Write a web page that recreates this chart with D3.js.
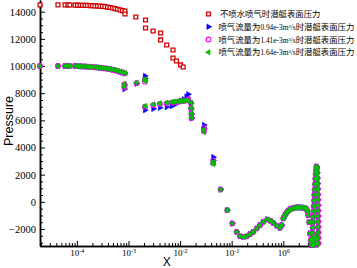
<!DOCTYPE html>
<html>
<head>
<meta charset="utf-8">
<script src="https://cdn.jsdelivr.net/npm/d3@7"></script>
<style>
    body { margin: 0; background: #fff; }
    svg { display: block; }
</style>
</head>
<body>
<svg id="drawing_region"></svg>
<script>
// ---- data ----
const xRed = [1.93e-5, 4.3e-5, 5.9e-5, 6.7e-5, 7.3e-5, 9.2e-5, 1.03e-4, 1.15e-4, 1.28e-4, 1.44e-4,
    1.6e-4, 1.8e-4, 2.0e-4, 2.24e-4, 2.51e-4, 2.8e-4, 3.13e-4, 3.5e-4, 3.92e-4, 4.38e-4,
    4.9e-4, 5.47e-4, 6.12e-4, 6.84e-4, 7.65e-4, 8.55e-4, 8.55e-4, 1.39e-3, 2.14e-3, 2.14e-3,
    3.0e-3, 4.2e-3, 4.2e-3, 5.5e-3, 7.3e-3, 7.3e-3, 8.5e-3, 1.02e-2, 1.15e-2];
const pRed = [14500, 14500, 14500, 14500, 14490, 14480, 14480, 14470, 14470, 14460,
    14460, 14450, 14440, 14430, 14420, 14410, 14390, 14370, 14340, 14310,
    14270, 14230, 14180, 14130, 14080, 14050, 13830, 13610, 13390, 12800,
    12580, 12430, 11920, 11550, 11180, 10590, 10370, 10080, 9930];

// x positions shared by the three jet cases
const xJet = [
    1.93e-5, 4.3e-5, 5.9e-5, 6.7e-5, 7.3e-5, 9.2e-5, 1.03e-4, 1.15e-4, 1.28e-4, 1.44e-4,
    1.6e-4, 1.8e-4, 2.0e-4, 2.24e-4, 2.51e-4, 2.8e-4, 3.13e-4, 3.5e-4, 3.92e-4, 4.38e-4,
    4.9e-4, 5.47e-4, 6.12e-4, 6.84e-4, 7.65e-4, 8.55e-4,
    8.36e-4, 8.36e-4, 1.44e-3, 2.09e-3, 2.09e-3,
    2.09e-3, 3.03e-3, 4.07e-3, 5.5e-3,
    6.87e-3, 7.62e-3, 8.59e-3, 9.52e-3, 1.06e-2, 1.19e-2, 1.33e-2, 1.44e-2,
    1.62e-2, 1.64e-2, 1.66e-2, 1.68e-2,
    2.91e-2, 2.91e-2, 4.4e-2, 4.4e-2,
    0.0612, 0.0822, 0.103, 0.125, 0.145, 0.168, 0.195, 0.226, 0.259, 0.305,
    0.353, 0.409, 0.49, 0.57, 0.64, 0.745, 0.863, 0.931, 1.0, 1.08,
    1.18, 1.25, 1.35, 1.45, 1.56, 1.68, 1.82, 1.95, 2.11, 2.27,
    2.44, 2.6, 2.75, 2.94, 3.05, 3.18, 3.29, 3.41, 3.55,
    3.6, 3.64, 3.68, 3.72, 3.76, 3.8, 3.85, 3.9, 3.95, 4.0, 4.06, 4.12, 4.18, 4.25, 4.32, 4.4,
    4.48, 4.54, 4.58, 4.62, 4.65, 4.67, 4.69, 4.71, 4.72, 4.73, 4.74, 4.75, 4.76, 4.76, 4.77,
    3.75, 3.95, 4.15, 4.35, 4.55];

const pBlue = [
    10000, 10000, 10000, 10000, 10000, 10000, 9990, 9980, 9970, 9960,
    9950, 9940, 9920, 9910, 9890, 9875, 9850, 9830, 9810, 9780,
    9740, 9700, 9650, 9590, 9520, 9450,
    8600, 8300, 8700, 9270, 9100,
    6750, 6850, 6930, 6980,
    7050, 7150, 7250, 7350, 7450, 7550, 7750, 7920,
    7250, 6850, 6450, 6150,
    5660, 5400, 3290, 3050,
    910, -610, -1590, -2210, -2525, -2575, -2545, -2380, -2230, -1960,
    -1715, -1470, -1295, -1385, -1545, -1750, -1915, -1715, -1220, -980,
    -760, -650, -560, -510, -465, -440, -410, -410, -410, -415,
    -425, -450, -485, -685, -980, -1495, -2325, -2820, -3185,
    -3100, -2700, -2300, -1900, -1500, -1100, -700, -300, 100, 500, 900, 1300, 1700, 2050, 2350, 2600,
    2500, 2150, 1750, 1350, 950, 550, 150, -250, -650, -1050, -1450, -1850, -2250, -2650, -3050,
    -3150, -2850, -2550, -2750, -3100];

const pMagenta = [
    10000, 10000, 10000, 10000, 10000, 10000, 9990, 9980, 9970, 9960,
    9950, 9940, 9920, 9910, 9890, 9870, 9845, 9825, 9800, 9770,
    9730, 9690, 9640, 9580, 9520, 9460,
    8640, 8420, 8740, 9000, 8850,
    7000, 7120, 7200, 7250,
    7300, 7320, 7350, 7380, 7400, 7430, 7480, 7550,
    7280, 6880, 6480, 6180,
    5450, 5200, 3050, 2850,
    910, -610, -1590, -2210, -2525, -2575, -2545, -2380, -2230, -1960,
    -1715, -1470, -1295, -1385, -1545, -1750, -1915, -1715, -1220, -980,
    -760, -650, -560, -510, -465, -440, -410, -410, -410, -415,
    -425, -450, -485, -685, -980, -1495, -2325, -2820, -3185,
    -3100, -2700, -2300, -1900, -1500, -1100, -700, -300, 100, 500, 900, 1300, 1700, 2050, 2350, 2600,
    2500, 2150, 1750, 1350, 950, 550, 150, -250, -650, -1050, -1450, -1850, -2250, -2650, -3050,
    -3150, -2850, -2550, -2750, -3100];

const pGreen = [
    10000, 10000, 10000, 10000, 10000, 10000, 9990, 9980, 9970, 9960,
    9950, 9940, 9920, 9910, 9890, 9875, 9850, 9830, 9810, 9780,
    9740, 9700, 9650, 9595, 9540, 9480,
    8680, 8460, 8770, 9020, 8900,
    7060, 7180, 7260, 7300,
    7350, 7370, 7390, 7410, 7430, 7450, 7470, 7480,
    7300, 6900, 6500, 6200,
    5340, 5140, 2950, 2780,
    910, -610, -1590, -2210, -2525, -2575, -2545, -2380, -2230, -1960,
    -1715, -1470, -1295, -1385, -1545, -1750, -1915, -1715, -1220, -980,
    -760, -650, -560, -510, -465, -440, -410, -410, -410, -415,
    -425, -450, -485, -685, -980, -1495, -2325, -2820, -3185,
    -3100, -2700, -2300, -1900, -1500, -1100, -700, -300, 100, 500, 900, 1300, 1700, 2050, 2350, 2600,
    2500, 2150, 1750, 1350, 950, 550, 150, -250, -650, -1050, -1450, -1850, -2250, -2650, -3050,
    -3150, -2850, -2550, -2750, -3100];

const yTicks = [-2000, 0, 2000, 4000, 6000, 8000, 10000, 12000, 14000];
const xTickPowers = [-4, -3, -2, -1, 0];
const legendLabels = [
    '不喷水喷气时潜艇表面压力',
    '喷气流量为0.94e-3m³/s时潜艇表面压力',
    '喷气流量为1.41e-3m³/s时潜艇表面压力',
    '喷气流量为1.64e-3m³/s时潜艇表面压力'
];

class PressureChart {
    constructor (config, series) {
        this.config = {
            parent: config.parent,
            width: config.width || 357,
            height: config.height || 268,
            margin: config.margin || {top:0, right:39, bottom:22, left:40},
        }
        this.series = series;
        this.init();
    }

    init() {
        let self = this;

        self.svg = d3.select( self.config.parent )
            .attr('width', self.config.width)
            .attr('height', self.config.height);

        self.chart = self.svg.append('g')
            .attr('transform', `translate(${self.config.margin.left}, ${self.config.margin.top})`);

        self.inner_width = self.config.width - self.config.margin.left - self.config.margin.right;
        self.inner_height = self.config.height - self.config.margin.top - self.config.margin.bottom;

        self.xscale = d3.scaleLog()
            .domain([1.93e-5, 4.77])
            .range([0, self.inner_width]);

        self.yscale = d3.scaleLinear()
            .domain([-3250, 14860])
            .range([self.inner_height, 0]);
    }

    update() {
        let self = this;

        // minor ticks, pointing into the plot
        let yMinor = d3.range(-3000, 14600, 500).filter(v => v % 2000 !== 0);
        let xMinor = [];
        for (let k = -5; k <= 0; k++) {
            for (let m = 2; m <= 9; m++) {
                let v = m * Math.pow(10, k);
                if (v > 1.93e-5 && v < 4.77) xMinor.push(v);
            }
        }

        self.chart.append('g')
            .attr('class', 'axis')
            .call( d3.axisLeft(self.yscale).tickValues(yMinor).tickSize(-3).tickFormat('').tickSizeOuter(0) );

        self.chart.append('g')
            .attr('class', 'axis')
            .call( d3.axisLeft(self.yscale).tickValues(yTicks).tickSize(-5).tickPadding(4)
                .tickFormat(d3.format('d')).tickSizeOuter(0) )
            .selectAll('text')
            .attr('font-family', '"Liberation Serif", serif')
            .attr('font-size', 10.5)
            .attr('fill', '#000');

        self.chart.append('g')
            .attr('class', 'axis')
            .attr('transform', `translate(0, ${self.inner_height})`)
            .call( d3.axisBottom(self.xscale).tickValues(xMinor).tickSize(-3).tickFormat('').tickSizeOuter(0) );

        let xMajor = self.chart.append('g')
            .attr('class', 'axis')
            .attr('transform', `translate(0, ${self.inner_height})`)
            .call( d3.axisBottom(self.xscale).tickValues(xTickPowers.map(p => Math.pow(10, p))).tickSize(-5).tickFormat('').tickSizeOuter(0) );

        xMajor.selectAll('.tick').append('text')
            .attr('y', 10)
            .attr('fill', '#000')
            .attr('text-anchor', 'middle')
            .attr('font-family', '"Liberation Serif", serif')
            .attr('font-size', 9)
            .each(function(d, i) {
                let t = d3.select(this);
                t.append('tspan').text('10');
                t.append('tspan').attr('font-size', 6).attr('dy', -3.5).text(xTickPowers[i]);
            });

        self.chart.selectAll('.axis path.domain').attr('stroke-width', 1.5);
        self.chart.selectAll('.axis .tick line').attr('stroke-width', 1);

        // axis titles
        self.svg.append('text')
            .attr('x', self.config.margin.left + self.xscale(0.0055))
            .attr('y', 265.5)
            .attr('text-anchor', 'middle')
            .attr('font-family', '"Liberation Sans", Arial, sans-serif')
            .attr('font-size', 12)
            .text('X');

        self.svg.append('text')
            .attr('transform', `translate(13, 121) rotate(-90)`)
            .attr('text-anchor', 'middle')
            .attr('font-family', '"Liberation Sans", Arial, sans-serif')
            .attr('font-size', 12.5)
            .text('Pressure');

        self.render();
    }

    render() {
        let self = this;

        self.series.forEach(s => {
            let sym = d3.symbol().type(s.shape).size(s.size);
            self.chart.append('g').selectAll('path')
                .data(s.x.map((x, i) => ({x: x, p: s.p[i]})))
                .join('path')
                .attr('d', sym)
                .attr('transform', d => `translate(${self.xscale(d.x)}, ${self.yscale(d.p)}) rotate(${s.rotate})`)
                .attr('fill', s.fill)
                .attr('stroke', s.stroke)
                .attr('stroke-width', s.strokeWidth);
        });

        // legend
        let legend = self.svg.append('g');
        self.series.forEach((s, i) => {
            let y = 14 + i * 12.75;
            let sym = d3.symbol().type(s.shape).size(s.size);
            legend.append('path')
                .attr('d', sym)
                .attr('transform', `translate(208.5, ${y}) rotate(${s.rotate})`)
                .attr('fill', s.fill)
                .attr('stroke', s.stroke)
                .attr('stroke-width', s.strokeWidth);

            let t = legend.append('text')
                .attr('x', i === 0 ? 220 : 218.5)
                .attr('y', y + 3)
                .attr('font-family', '"Noto Sans CJK SC", sans-serif')
                .attr('font-size', 8.4);
            legendLabels[i].split(/([0-9.e\-m³\/s]+)/).filter(p => p.length).forEach(part => {
                let latin = /^[0-9.e\-m³\/s]+$/.test(part);
                t.append('tspan')
                    .attr('font-family', latin ? '"Liberation Serif", serif' : '"Noto Sans CJK SC", sans-serif')
                    .attr('font-size', latin ? 7.4 : 8.4)
                    .text(part);
            });
        });
    }
}

let series = [
    {x: xRed, p: pRed, shape: d3.symbolSquare, size: 15, rotate: 0, fill: '#fff', stroke: '#d40000', strokeWidth: 1.3},
    {x: xJet, p: pBlue, shape: d3.symbolTriangle, size: 14, rotate: 90, fill: '#0000ff', stroke: '#0000ff', strokeWidth: 0.5},
    {x: xJet, p: pMagenta, shape: d3.symbolCircle, size: 18, rotate: 0, fill: 'none', stroke: '#ff00ff', strokeWidth: 1.1},
    {x: xJet, p: pGreen, shape: d3.symbolTriangle, size: 11, rotate: -90, fill: '#00cc00', stroke: '#00b400', strokeWidth: 0.8}
];

let config = {
    parent: '#drawing_region',
    width: 357,
    height: 268,
    margin: {top:0, right:38.7, bottom:22, left:40},
};

const chart = new PressureChart( config, series );
chart.update();
</script>
</body>
</html>
